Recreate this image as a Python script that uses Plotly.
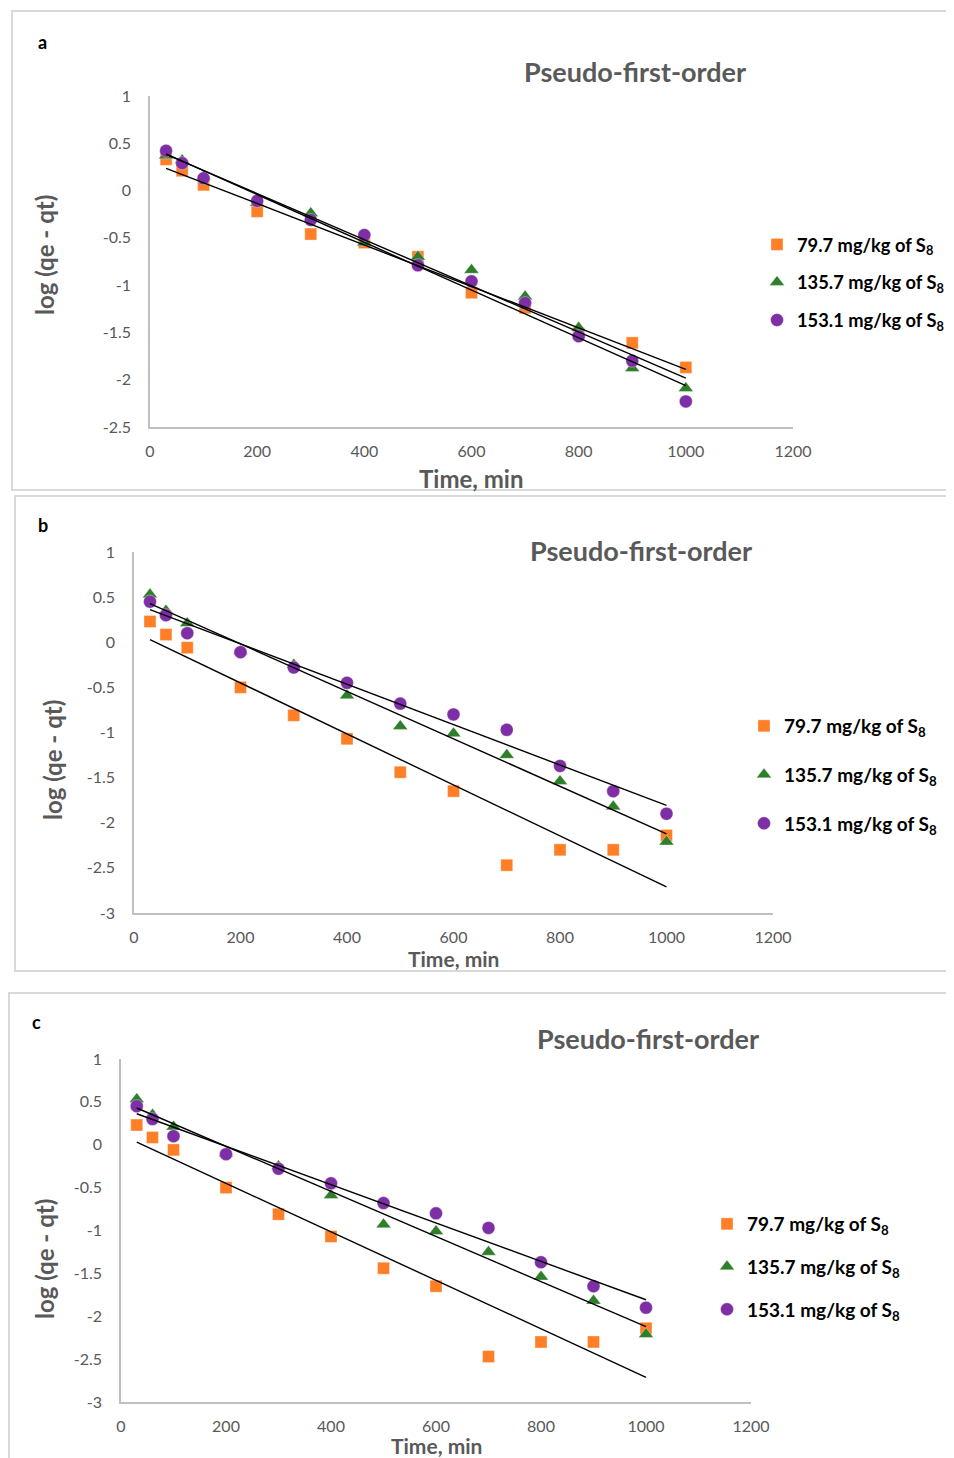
import numpy as np
import plotly.graph_objects as go

W, H = 954, 1458
OFF = 8  # page body margin offset

# ---------------- data ----------------
time_min = [30, 60, 100, 200, 300, 400, 500, 600, 700, 800, 900, 1000]

a_797 = [0.33, 0.21, 0.06, -0.22, -0.46, -0.55, -0.70, -1.08, -1.24, -1.51, -1.61, -1.87]
a_1357 = [0.37, 0.32, 0.15, -0.13, -0.24, -0.55, -0.70, -0.84, -1.12, -1.45, -1.88, -2.09]
a_1531 = [0.42, 0.29, 0.13, -0.11, -0.31, -0.47, -0.79, -0.96, -1.19, -1.54, -1.80, -2.23]

b_797 = [0.23, 0.085, -0.06, -0.50, -0.81, -1.07, -1.44, -1.65, -2.47, -2.30, -2.30, -2.14]
b_1357 = [0.53, 0.35, 0.21, -0.10, -0.25, -0.59, -0.93, -1.01, -1.25, -1.54, -1.82, -2.21]
b_1531 = [0.45, 0.30, 0.10, -0.11, -0.28, -0.45, -0.68, -0.80, -0.97, -1.37, -1.65, -1.90]

c_797 = b_797
c_1357 = b_1357
c_1531 = b_1531

series_names = ["79.7 mg/kg of S<sub>8</sub>", "135.7 mg/kg of S<sub>8</sub>", "153.1 mg/kg of S<sub>8</sub>"]

x_tickvals = [0, 200, 400, 600, 800, 1000, 1200]
x_ticktext = ["0", "200", "400", "600", "800", "1000", "1200"]
ya_tickvals = [1, 0.5, 0, -0.5, -1, -1.5, -2, -2.5]
ya_ticktext = ["1", "0.5", "0", "-0.5", "-1", "-1.5", "-2", "-2.5"]
yb_tickvals = [1, 0.5, 0, -0.5, -1, -1.5, -2, -2.5, -3]
yb_ticktext = ["1", "0.5", "0", "-0.5", "-1", "-1.5", "-2", "-2.5", "-3"]

panel_letters = ["a", "b", "c"]
chart_title = "Pseudo-first-order"
x_title = "Time, min"
y_title = "log (qe - qt)"

# ---------------- styles ----------------
colors = ["#FF7F27", "#2F7F2A", "#7E2FA5"]
symbols = ["square", "triangle-up", "circle"]
sizes = [12, 13, 13]
FONT = "Lato"
GRAY = "#595959"


def px_x(p):
    return (p - OFF) / W


def px_y(p):
    return 1 - (p - OFF) / H


fig = go.Figure()

panels = [
    dict(data=[a_797, a_1357, a_1531], x0=150, x1=793, ytop=96, ybot=427,
         yr=[-2.5, 1], yt=(ya_tickvals, ya_ticktext), legend_x=757, legend_y=226, gap=11, lfs=18.3,
         box=(12, 11, 490), letter=(42, 42), title=(635, 72), xt=(471, 478), xts=24, ytl=(45, 255)),
    dict(data=[b_797, b_1357, b_1531], x0=134, x1=773, ytop=552, ybot=913,
         yr=[-3, 1], yt=(yb_tickvals, yb_ticktext), legend_x=744, legend_y=707, gap=21, lfs=19,
         box=(15, 496, 971), letter=(43, 525), title=(641, 550), xt=(453, 958), xts=21, ytl=(53, 760)),
    dict(data=[c_797, c_1357, c_1531], x0=121, x1=751, ytop=1059, ybot=1402,
         yr=[-3, 1], yt=(yb_tickvals, yb_ticktext), legend_x=707, legend_y=1205, gap=15, lfs=19,
         box=(9, 993, 1475), letter=(36, 1022), title=(648, 1038), xt=(436, 1445), xts=21, ytl=(44, 1259)),
]

annotations = []
shapes = []
layout_axes = {}

for i, p in enumerate(panels):
    n = "" if i == 0 else str(i + 1)
    xa, ya = "x" + n, "y" + n
    leg = "legend" + n
    tx = np.array(time_min, dtype=float)
    for k, ys in enumerate(p["data"]):
        fig.add_trace(go.Scatter(
            x=time_min, y=ys, mode="markers", name=series_names[k],
            marker=dict(symbol=symbols[k], size=sizes[k], color=colors[k],
                        line=dict(width=0.6, color="rgba(255,255,255,0.6)")),
            xaxis=xa, yaxis=ya, legend=leg, legendgroup=f"g{i}{k}", showlegend=True,
        ))
    for k, ys in enumerate(p["data"]):
        m, b = np.polyfit(tx, np.array(ys, dtype=float), 1)
        xs = [tx.min(), tx.max()]
        fig.add_trace(go.Scatter(
            x=xs, y=[m * v + b for v in xs], mode="lines",
            line=dict(color="black", width=1.4), xaxis=xa, yaxis=ya,
            showlegend=False, hoverinfo="skip",
        ))

    layout_axes["xaxis" + n] = dict(
        domain=[px_x(p["x0"]), px_x(p["x1"])], range=[0, 1200], anchor=ya, automargin=False,
        tickvals=x_tickvals, ticktext=x_ticktext, showgrid=False, zeroline=False,
        showline=True, linecolor="#BFBFBF", linewidth=1.5, ticks="",
        tickfont=dict(family=FONT, size=16, color=GRAY), ticklabelstandoff=9,
    )
    layout_axes["yaxis" + n] = dict(
        domain=[px_y(p["ybot"]), px_y(p["ytop"])], range=p["yr"], anchor=xa, automargin=False,
        tickvals=p["yt"][0], ticktext=p["yt"][1], showgrid=False, zeroline=False,
        showline=True, linecolor="#BFBFBF", linewidth=1.5, ticks="",
        tickfont=dict(family=FONT, size=16, color=GRAY), ticklabelstandoff=14,
    )
    layout_axes[leg] = dict(
        x=px_x(p["legend_x"]), y=px_y(p["legend_y"]), xanchor="left", yanchor="top",
        xref="container", yref="container", bgcolor="rgba(0,0,0,0)", borderwidth=0,
        font=dict(family=FONT, size=p["lfs"], color="black", weight="bold"),
        tracegroupgap=p["gap"], traceorder="grouped", itemwidth=30,
    )

    bx, by0, by1 = p["box"]
    shapes.append(dict(type="rect", xref="paper", yref="paper",
                       x0=px_x(bx), x1=1.01, y0=px_y(by1), y1=px_y(by0),
                       line=dict(color="#D9D9D9", width=2), fillcolor="rgba(0,0,0,0)", layer="below"))

    annotations.append(dict(text="<b>" + panel_letters[i] + "</b>", x=px_x(p["letter"][0]), y=px_y(p["letter"][1]),
                            xref="paper", yref="paper", showarrow=False, xanchor="center", yanchor="middle",
                            font=dict(family=FONT, size=18, color="black")))
    annotations.append(dict(text="<b>" + chart_title + "</b>", x=px_x(p["title"][0]), y=px_y(p["title"][1]),
                            xref="paper", yref="paper", showarrow=False, xanchor="center", yanchor="middle",
                            font=dict(family=FONT, size=27, color=GRAY)))
    annotations.append(dict(text="<b>" + x_title + "</b>", x=px_x(p["xt"][0]), y=px_y(p["xt"][1]),
                            xref="paper", yref="paper", showarrow=False, xanchor="center", yanchor="middle",
                            font=dict(family=FONT, size=p["xts"], color=GRAY)))
    annotations.append(dict(text="<b>" + y_title + "</b>", x=px_x(p["ytl"][0]), y=px_y(p["ytl"][1]),
                            xref="paper", yref="paper", showarrow=False, xanchor="center", yanchor="middle",
                            textangle=-90, font=dict(family=FONT, size=24, color=GRAY)))

fig.update_layout(
    width=W, height=H, margin=dict(l=0, r=0, t=0, b=0, autoexpand=False),
    paper_bgcolor="white", plot_bgcolor="white",
    annotations=annotations, shapes=shapes, **layout_axes,
)

fig.write_html("out.html")
